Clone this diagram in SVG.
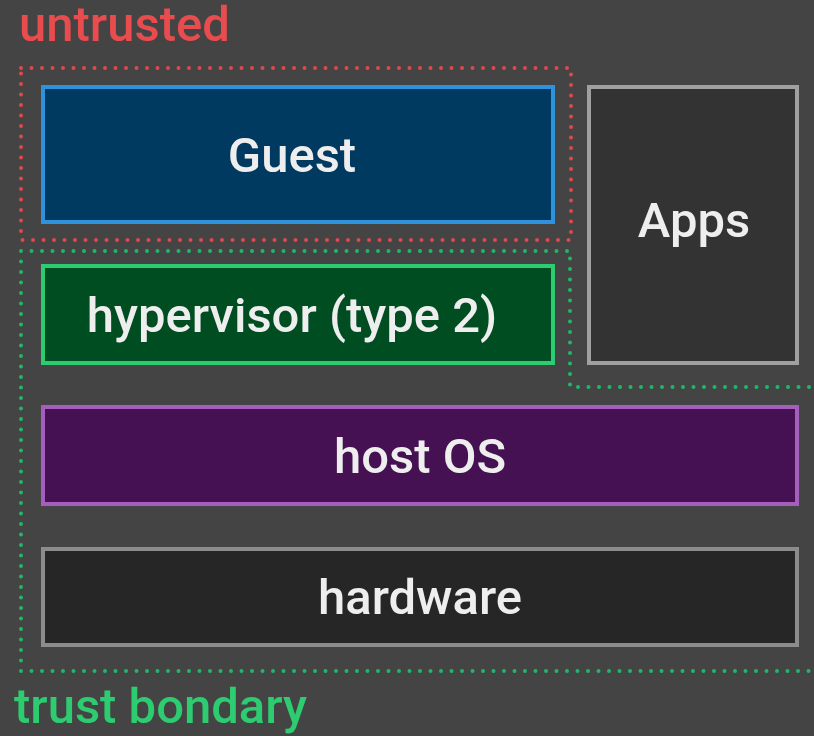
<svg xmlns="http://www.w3.org/2000/svg" width="814" height="736" viewBox="0 0 814 736">
  <style>
    .label { font-family: Roboto, "Liberation Sans", sans-serif; font-size: 49px; font-weight: 500; fill: #eeeeee; text-anchor: middle; }
    .title { font-family: Roboto, "Liberation Sans", sans-serif; font-size: 49px; font-weight: 500; }
    .dots { fill: none; stroke-width: 4; stroke-linecap: round; stroke-dasharray: 0 10.5; }
    .box { stroke-width: 4; }
  </style>
  <rect width="814" height="736" fill="#444444"/>

  <g id="boundaries">
    <rect class="dots" x="21" y="68" width="550" height="172" stroke="#e0484c"/>
    <path class="dots" d="M21 251 H570 V387 H814 M21 251 V671 H814" stroke="#20b868"/>
  </g>

  <g id="guest">
    <rect class="box" x="43" y="87" width="510" height="135" fill="#003a60" stroke="#2f92dc"/>
    <text class="label" x="292" y="172">Guest</text>
  </g>

  <g id="apps">
    <rect class="box" x="589" y="87" width="208" height="276" fill="#333333" stroke="#a0a0a0"/>
    <text class="label" x="694" y="237">Apps</text>
  </g>

  <g id="hypervisor">
    <rect class="box" x="43" y="266" width="510" height="97" fill="#004d22" stroke="#2ecc71"/>
    <text class="label" x="292" y="332">hypervisor (type 2)</text>
  </g>

  <g id="host-os">
    <rect class="box" x="43" y="407" width="754" height="97" fill="#451152" stroke="#a45ebc"/>
    <text class="label" x="420" y="473">host OS</text>
  </g>

  <g id="hardware">
    <rect class="box" x="43" y="549" width="754" height="96" fill="#262626" stroke="#8c8c8c"/>
    <text class="label" x="420" y="614">hardware</text>
  </g>

  <g id="titles">
    <text class="title" x="19" y="41" fill="#e84c4e">untrusted</text>
    <text class="title" x="14" y="723" fill="#2ecc71">trust bondary</text>
  </g>
</svg>
